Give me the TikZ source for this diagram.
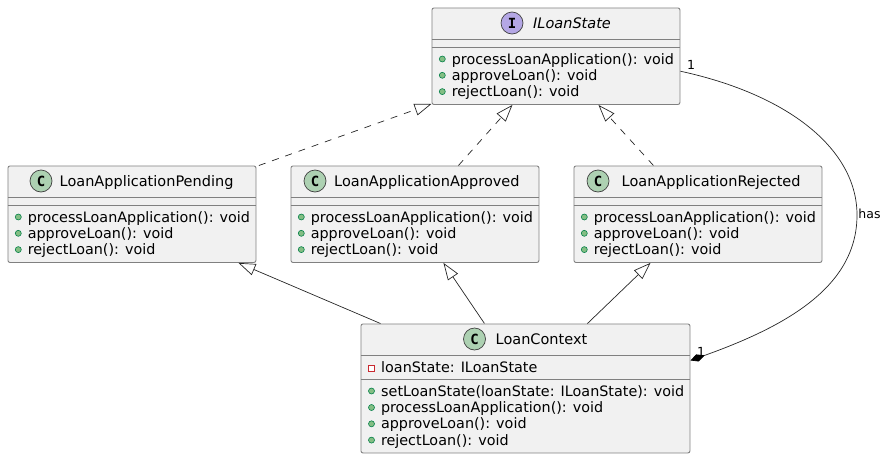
\documentclass[tikz,border=0pt]{standalone}
\usepackage{fontspec}
\setmainfont{DejaVu Sans}
\setmonofont{DejaVu Sans Mono}
\usetikzlibrary{arrows.meta}
\definecolor{boxfill}{HTML}{F1F1F1}
\definecolor{boxline}{HTML}{808080}
\definecolor{classspot}{HTML}{ADD1B2}
\definecolor{ifacespot}{HTML}{B4A7E5}
\definecolor{pubfill}{HTML}{84BE84}
\definecolor{publine}{HTML}{038048}
\definecolor{privline}{HTML}{C82930}
\tikzset{
	classbox/.style = {draw = boxline, fill = boxfill, line width = .9pt, rounded corners = 2pt, inner sep = 0pt},
	divider/.style = {draw = boxline, line width = .9pt},
	spot/.style = {circle, draw = black!75, line width = .7pt, minimum size = 22pt, inner sep = 0pt, font = \fontsize{14}{14}\selectfont\ttfamily\bfseries},
	title/.style = {anchor = base west, inner sep = 0pt, font = \fontsize{14.5}{14.5}\selectfont},
	member/.style = {anchor = base west, inner sep = 0pt, font = \fontsize{14.35}{14.35}\selectfont},
	pub/.style = {circle, draw = publine, fill = pubfill, line width = .6pt, minimum size = 6pt, inner sep = 0pt},
	priv/.style = {rectangle, draw = privline, fill = white, line width = .7pt, minimum size = 6pt, inner sep = 0pt},
	edgelabel/.style = {inner sep = 0pt, font = \fontsize{12.5}{12.5}\selectfont},
	realize/.style = {dash pattern = on 7pt off 7pt, line width = .7pt, black!85, -{Triangle[open, length = 17pt, width = 12pt, line width = .7pt]}},
	inherit/.style = {line width = .7pt, black!85, -{Triangle[open, length = 17pt, width = 12pt, line width = .7pt]}}
}
\begin{document}
\begin{tikzpicture}[x = 1pt, y = -1pt]
	\useasboundingbox (0, 0) rectangle (888, 458);
	
	% boxes
	\node[classbox, anchor = north west, minimum width = 248pt, minimum height = 96.5pt] (iLoanState) at (431.5, 7.5) {};
	\node[classbox, anchor = north west, minimum width = 248pt, minimum height = 96.5pt] (pending) at (7.5, 165.5) {};
	\node[classbox, anchor = north west, minimum width = 248pt, minimum height = 96.5pt] (approved) at (290.5, 165.5) {};
	\node[classbox, anchor = north west, minimum width = 248pt, minimum height = 96.5pt] (rejected) at (573.5, 165.5) {};
	\node[classbox, anchor = north west, minimum width = 329pt, minimum height = 129pt] (loanContext) at (360.5, 323.5) {};
	
	% dividers
	\draw[divider] (431.5, 39.5) -- (679.5, 39.5) (431.5, 47.5) -- (679.5, 47.5);
	\foreach \bx in {7.5, 290.5, 573.5}
		\draw[divider] (\bx, 197.5) -- ({\bx + 248}, 197.5) (\bx, 205.5) -- ({\bx + 248}, 205.5);
	\draw[divider] (360.5, 355.5) -- (689.5, 355.5) (360.5, 379.5) -- (689.5, 379.5);
	
	% headers
	\node[spot, fill = ifacespot] (iLoanSpot) at (512, 23) {I};
	\node[title] (iLoanTitle) at (533, 28) {\itshape ILoanState};
	\node[spot, fill = classspot] (pendingSpot) at (41, 181) {C};
	\node[title] (pendingTitle) at (59.5, 186) {LoanApplicationPending};
	\node[spot, fill = classspot] (approvedSpot) at (315, 181) {C};
	\node[title] (approvedTitle) at (334, 186) {LoanApplicationApproved};
	\node[spot, fill = classspot] (rejectedSpot) at (598, 181) {C};
	\node[title] (rejectedTitle) at (621.5, 186) {LoanApplicationRejected};
	\node[spot, fill = classspot] (contextSpot) at (474.5, 339) {C};
	\node[title] (contextTitle) at (495.5, 344) {LoanContext};
	
	% the three shared methods
	\foreach \bn/\bx/\by in {iLoan/442.3/64, pending/18.3/222, approved/301.3/222, rejected/584.3/222, context/371.5/412.5} {
		\node[pub] (\bn A) at (\bx, {\by - 5}) {};
		\node[member] (\bn Atext) at ({\bx + 9.3}, \by) {processLoanApplication(): void};
		\node[pub] (\bn B) at (\bx, {\by + 11.3}) {};
		\node[member] (\bn Btext) at ({\bx + 9.3}, {\by + 16.3}) {approveLoan(): void};
		\node[pub] (\bn C) at (\bx, {\by + 27.6}) {};
		\node[member] (\bn Ctext) at ({\bx + 9.3}, {\by + 32.6}) {rejectLoan(): void};
	}
	\node[priv] (stateMark) at (371.3, 368) {};
	\node[member] (stateField) at (381, 372.5) {loanState: ILoanState};
	\node[pub] (setMark) at (371.5, 391) {};
	\node[member] (setText) at (381, 396) {setLoanState(loanState: ILoanState): void};
	
	% connectors
	\draw[realize] ([xshift = 2.5pt]pending.north east) -- ([yshift = 1pt]iLoanState.south west);
	\draw[realize] ([xshift = 43.5pt]approved.north) -- ([xshift = -43.5pt]iLoanState.south);
	\draw[realize] ([xshift = -44.5pt]rejected.north) -- ([xshift = 42.5pt]iLoanState.south);
	\draw[inherit] ([xshift = -145pt]loanContext.north) -- ([xshift = 106.5pt]pending.south);
	\draw[inherit] ([xshift = -41pt]loanContext.north) -- ([xshift = 28.5pt]approved.south);
	\draw[inherit] ([xshift = 62pt]loanContext.north) -- ([xshift = -47.5pt]rejected.south);
	
	\coordinate (hasBend) at (857, 215);
	\draw[line width = .7pt, black!85, {Diamond[length = 15pt, width = 7.5pt, black]}-]
	([yshift = 28pt]loanContext.east) .. controls (790, 325) and (857, 285) .. (hasBend)
	.. controls (857, 150) and (790, 95) .. ([yshift = -15pt]iLoanState.east);
	
	\node[edgelabel] (iLoanOne) at (691, 65) {1};
	\node[edgelabel] (contextOne) at (701, 351.5) {1};
	\node[edgelabel] (hasLabel) at (869.5, 214) {has};
\end{tikzpicture}
\end{document}
